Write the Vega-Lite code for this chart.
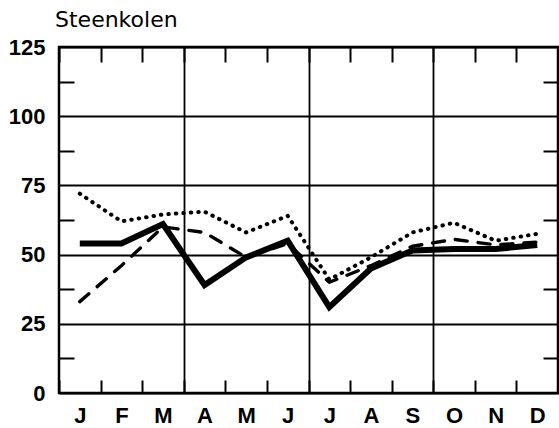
{
  "$schema": "https://vega.github.io/schema/vega-lite/v6.json",
  "width": 499,
  "height": 346,
  "autosize": "none",
  "padding": {"left": 59, "top": 47, "right": 1, "bottom": 35},
  "background": "white",
  "title": {"text": "Steenkolen", "anchor": "start", "frame": "group", "font": "DejaVu Sans", "fontSize": 22, "fontWeight": "normal", "color": "black", "offset": 4, "dx": -4},
  "config": {"view": {"stroke": "black", "strokeWidth": 2.5}},
  "data": {"values": [
    {"month": "Jan", "series": "solid", "value": 54},
    {"month": "Feb", "series": "solid", "value": 54},
    {"month": "Mar", "series": "solid", "value": 61},
    {"month": "Apr", "series": "solid", "value": 39},
    {"month": "May", "series": "solid", "value": 49},
    {"month": "Jun", "series": "solid", "value": 55},
    {"month": "Jul", "series": "solid", "value": 31},
    {"month": "Aug", "series": "solid", "value": 45},
    {"month": "Sep", "series": "solid", "value": 51.5},
    {"month": "Oct", "series": "solid", "value": 52},
    {"month": "Nov", "series": "solid", "value": 52},
    {"month": "Dec", "series": "solid", "value": 53.5},
    {"month": "Jan", "series": "dashed", "value": 33},
    {"month": "Feb", "series": "dashed", "value": 46},
    {"month": "Mar", "series": "dashed", "value": 60},
    {"month": "Apr", "series": "dashed", "value": 58},
    {"month": "May", "series": "dashed", "value": 49},
    {"month": "Jun", "series": "dashed", "value": 54},
    {"month": "Jul", "series": "dashed", "value": 40},
    {"month": "Aug", "series": "dashed", "value": 46},
    {"month": "Sep", "series": "dashed", "value": 53},
    {"month": "Oct", "series": "dashed", "value": 55.5},
    {"month": "Nov", "series": "dashed", "value": 53.5},
    {"month": "Dec", "series": "dashed", "value": 54.5},
    {"month": "Jan", "series": "dotted", "value": 72},
    {"month": "Feb", "series": "dotted", "value": 62},
    {"month": "Mar", "series": "dotted", "value": 64.5},
    {"month": "Apr", "series": "dotted", "value": 65.5},
    {"month": "May", "series": "dotted", "value": 58},
    {"month": "Jun", "series": "dotted", "value": 64},
    {"month": "Jul", "series": "dotted", "value": 41},
    {"month": "Aug", "series": "dotted", "value": 49},
    {"month": "Sep", "series": "dotted", "value": 58},
    {"month": "Oct", "series": "dotted", "value": 61.5},
    {"month": "Nov", "series": "dotted", "value": 55},
    {"month": "Dec", "series": "dotted", "value": 57.5}
  ]},
  "layer": [
    {
      "transform": [{"filter": "datum.series == 'dotted'"}],
      "mark": {"type": "line", "color": "black", "strokeCap": "round", "strokeJoin": "round", "strokeWidth": 4, "strokeDash": [0.5, 7]},
      "encoding": {
        "x": {
          "field": "month", "type": "ordinal",
          "sort": ["Jan","Feb","Mar","Apr","May","Jun","Jul","Aug","Sep","Oct","Nov","Dec"],
          "scale": {"type": "band", "paddingInner": 0, "paddingOuter": 0},
          "bandPosition": 0.5,
          "axis": {
            "orient": "bottom", "title": null, "domain": false,
            "tickBand": "extent", "tickSize": -13, "tickColor": "black", "tickWidth": 2,
            "labelExpr": "substring(datum.label, 0, 1)",
            "labelAngle": 0, "labelFont": "Liberation Sans", "labelFontSize": 22, "labelFontWeight": "bold", "labelColor": "black", "labelPadding": 25,
            "grid": true, "gridColor": "black", "gridWidth": 1.8,
            "gridOpacity": {"condition": {"test": "indexof(['Mar','Jun','Sep'], datum.value) >= 0", "value": 1}, "value": 0}
          }
        },
        "y": {
          "field": "value", "type": "quantitative",
          "scale": {"domain": [0, 125], "nice": false, "zero": true},
          "axis": {
            "orient": "left", "title": null, "domain": false,
            "values": [0, 12.5, 25, 37.5, 50, 62.5, 75, 87.5, 100, 112.5, 125],
            "tickSize": -15, "tickColor": "black", "tickWidth": 2,
            "tickOpacity": {"condition": {"test": "datum.value % 25 != 0", "value": 1}, "value": 0},
            "labelExpr": "datum.value % 25 == 0 ? datum.label : ''",
            "labelFont": "Liberation Sans", "labelFontSize": 22, "labelFontWeight": "bold", "labelColor": "black", "labelPadding": 29,
            "grid": true, "gridColor": "black", "gridWidth": 1.8,
            "gridOpacity": {"condition": {"test": "datum.value % 25 == 0", "value": 1}, "value": 0}
          }
        }
      }
    },
    {
      "transform": [{"filter": "datum.series == 'dashed'"}],
      "mark": {"type": "line", "color": "black", "strokeCap": "round", "strokeJoin": "round", "strokeWidth": 3.4, "strokeDash": [12, 11]},
      "encoding": {
        "x": {"field": "month", "type": "ordinal", "sort": ["Jan","Feb","Mar","Apr","May","Jun","Jul","Aug","Sep","Oct","Nov","Dec"], "bandPosition": 0.5, "axis": null},
        "y": {"field": "value", "type": "quantitative", "axis": null}
      }
    },
    {
      "transform": [{"filter": "datum.series == 'solid'"}],
      "mark": {"type": "line", "color": "black", "strokeCap": "butt", "strokeJoin": "miter", "strokeWidth": 6},
      "encoding": {
        "x": {"field": "month", "type": "ordinal", "sort": ["Jan","Feb","Mar","Apr","May","Jun","Jul","Aug","Sep","Oct","Nov","Dec"], "bandPosition": 0.5, "axis": null},
        "y": {"field": "value", "type": "quantitative", "axis": null}
      }
    },
    {
      "mark": {"type": "line", "opacity": 0},
      "encoding": {
        "x": {
          "field": "month", "type": "ordinal",
          "sort": ["Jan","Feb","Mar","Apr","May","Jun","Jul","Aug","Sep","Oct","Nov","Dec"],
          "bandPosition": 0.5,
          "axis": {"orient": "top", "title": null, "domain": false, "labels": false, "grid": false, "tickBand": "extent", "tickSize": -15, "tickColor": "black", "tickWidth": 2}
        },
        "y": {
          "field": "value", "type": "quantitative",
          "axis": {"orient": "right", "title": null, "domain": false, "labels": false, "grid": false, "values": [12.5, 37.5, 62.5, 87.5, 112.5], "tickSize": -15, "tickColor": "black", "tickWidth": 2}
        },
        "detail": {"field": "series"}
      }
    }
  ],
  "resolve": {"axis": {"x": "independent", "y": "independent"}}
}
